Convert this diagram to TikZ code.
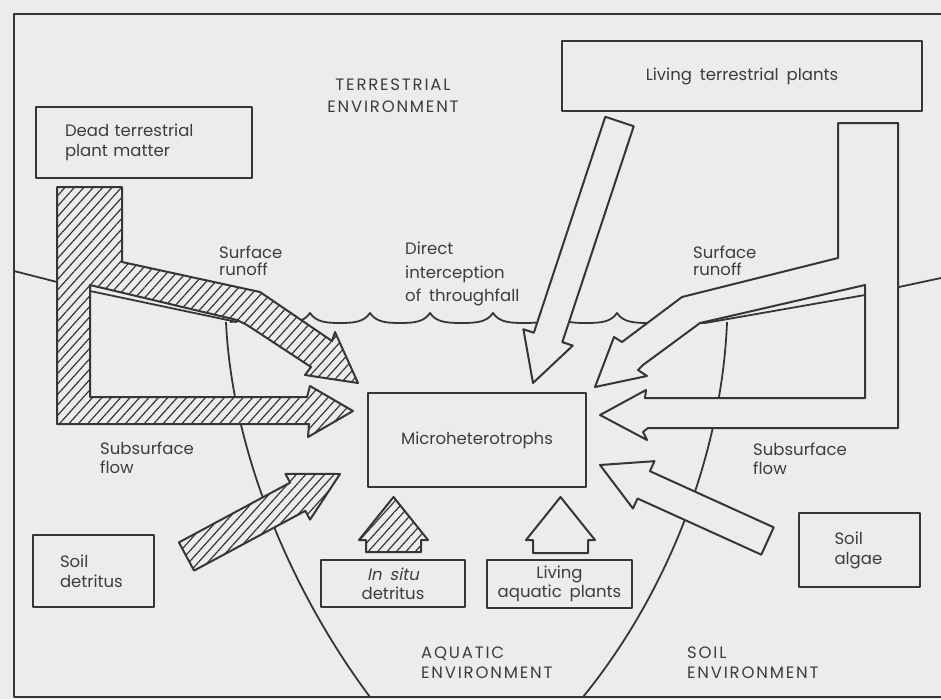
\documentclass[tikz,border=0pt]{standalone}
\usepackage{fontspec}
\setmainfont{Poppins}[WordSpace=1.8]
\newfontfamily\slantfont{Poppins}[FakeSlant=0.2,WordSpace=1.8]
\newfontfamily\capsfont{Poppins}[LetterSpace=11]
\usetikzlibrary{calc,patterns.meta}
\definecolor{bg}{RGB}{236,236,234}
\definecolor{lc}{RGB}{52,56,52}
\definecolor{tc}{RGB}{60,62,60}
% block arrow: style, tail, tip, shaft half width, head half width, head length
\newcommand\barrow[6]{%
  \draw[#1] ($(#2)!#4pt!90:(#3)$) -- ($(#3)!#6pt!(#2)!#4pt!-90:(#2)$)
    -- ($(#3)!#6pt!(#2)!#5pt!-90:(#2)$) -- (#3)
    -- ($(#3)!#6pt!(#2)!#5pt!90:(#2)$) -- ($(#3)!#6pt!(#2)!#4pt!90:(#2)$)
    -- ($(#2)!#4pt!-90:(#3)$) -- cycle;}
\begin{document}
\begin{tikzpicture}[x=1pt,y=-1pt,line join=round,
  thin line/.style={draw=lc,line width=1.8pt},
  frame/.style={draw=lc,line width=2.8pt},
  box/.style={draw=lc,line width=2.4pt,fill=bg,inner sep=0pt,text=tc,
    font=\fontsize{16.5}{20}\selectfont},
  flowwhite/.style={draw=lc,line width=2pt,fill=bg},
  flowhatch/.style={draw=lc,line width=2pt,preaction={fill=bg},
    pattern={Lines[angle=48,distance=7pt,line width=1.2pt]},pattern color=lc},
  lbl/.style={inner sep=0pt,text=tc,align=left,anchor=north west}]
\useasboundingbox (0,0) rectangle (941,699);
\fill[bg] (0,0) rectangle (941,699);
% frame
\draw[frame] (941,14) -- (14,14) -- (14,697) -- (941,697);
% ground surface
\draw[thin line] (14,271) -- (57,282) -- (90,291) -- (237,322);
\draw[thin line] (941,278) -- (899,287) -- (865,295) -- (705,323);
% water surface
\draw[thin line] (230,322) -- (240,321) .. controls (244,320) and (246,317) .. (248,313)
  \foreach \a/\b in {248/310,310/370,370/430,430/493,493/555,555/617,617/680}{
    .. controls (\a+6,322) and (\a+16,323) .. ({(\a+\b)/2},323)
    .. controls (\b-16,323) and (\b-6,322) .. (\b,313)}
  .. controls (686,322) and (696,323) .. (705,323);
% aquatic environment boundaries
\draw[thin line] (226,322) .. controls (232,450) and (290,590) .. (370,697);
\draw[thin line] (727,322) .. controls (722,450) and (670,590) .. (583,697);
% dead terrestrial plant matter flows (hatched)
\draw[flowhatch] (57,187) -- (122,187) -- (122,262) -- (260,292) -- (332,341)
  -- (335,332) -- (358,383) -- (305,375) -- (311,367) -- (247,325) -- (237,320)
  -- (90,285) -- (90,397) -- (307,397) -- (310,386) -- (353,411) -- (308,437)
  -- (309,424) -- (57,424) -- cycle;
% living terrestrial plant flows (white)
\draw[flowwhite] (838,123) -- (898,123) -- (898,428) -- (648,428) -- (643,432)
  -- (647,440) -- (600,415) -- (646,390) -- (645,398) -- (865,398) -- (865,285)
  -- (700,323) -- (643,365) -- (638,370) -- (647,376) -- (595,387) -- (614,337)
  -- (622,342) -- (682,297) -- (838,258) -- cycle;
% other arrows
\coordinate (di-t) at (619.5,121.5); \coordinate (di-h) at (533,383);
\coordinate (sa-t) at (767.5,541);   \coordinate (sa-h) at (600,465);
\coordinate (sd-t) at (186.5,556.5); \coordinate (sd-h) at (340,474);
\coordinate (is-t) at (393.5,552);   \coordinate (is-h) at (393.5,497);
\coordinate (ap-t) at (560.5,553);   \coordinate (ap-h) at (560.5,497);
\barrow{flowwhite}{di-t}{di-h}{15}{26}{48}
\barrow{flowwhite}{sa-t}{sa-h}{15}{26}{48}
\barrow{flowhatch}{sd-t}{sd-h}{16}{26}{48}
\barrow{flowhatch}{is-t}{is-h}{27.5}{34.5}{43}
\barrow{flowwhite}{ap-t}{ap-h}{27.5}{34.5}{43}
% boxes
\node[box,minimum width=216,minimum height=71,text width=158,inner xsep=29,align=left]
  (dead) at (144,142.5) {Dead terrestrial\\plant matter};
\node[box,minimum width=360,minimum height=70] (living) at (742,76) {Living terrestrial plants};
\node[box,minimum width=218,minimum height=94] (micro) at (477,440) {Microheterotrophs};
\node[box,minimum width=144,minimum height=47,align=center,font=\fontsize{16.5}{19}\selectfont]
  (insitu) at (393,583.5) {{\slantfont In situ}\\detritus};
\node[box,minimum width=145,minimum height=48,align=center,font=\fontsize{16.5}{19}\selectfont]
  (aqplants) at (559.5,584) {Living\\aquatic plants};
\node[box,minimum width=121,minimum height=72,text width=67,inner xsep=27,align=left]
  (soildet) at (93.5,571) {Soil\\detritus};
\node[box,minimum width=121,minimum height=74,text width=50,inner xsep=35.5,align=left]
  (algae) at (859.5,550) {Soil\\algae};
% labels
\node[lbl,anchor=north,align=center,font=\capsfont\fontsize{16.5}{22}\selectfont] (terr) at (393,79)
  {TERRESTRIAL\\ENVIRONMENT};
\node[lbl,font=\fontsize{16.5}{16.5}\selectfont] (sr1) at (219,246) {Surface\\runoff};
\node[lbl,font=\fontsize{16.5}{23.5}\selectfont] (direct) at (405,242)
  {Direct\\interception\\of throughfall};
\node[lbl,font=\fontsize{16.5}{16.5}\selectfont] (sr2) at (693,246) {Surface\\runoff};
\node[lbl,font=\fontsize{16.5}{19}\selectfont] (ssf1) at (100,442) {Subsurface\\flow};
\node[lbl,font=\fontsize{16.5}{19}\selectfont] (ssf2) at (753,443) {Subsurface\\flow};
\node[lbl,font=\capsfont\fontsize{16.5}{20}\selectfont] (aqua) at (421,647) {AQUATIC\\ENVIRONMENT};
\node[lbl,font=\capsfont\fontsize{16.5}{20}\selectfont] (soilenv) at (687,647) {SOIL\\ENVIRONMENT};
\end{tikzpicture}
\end{document}
